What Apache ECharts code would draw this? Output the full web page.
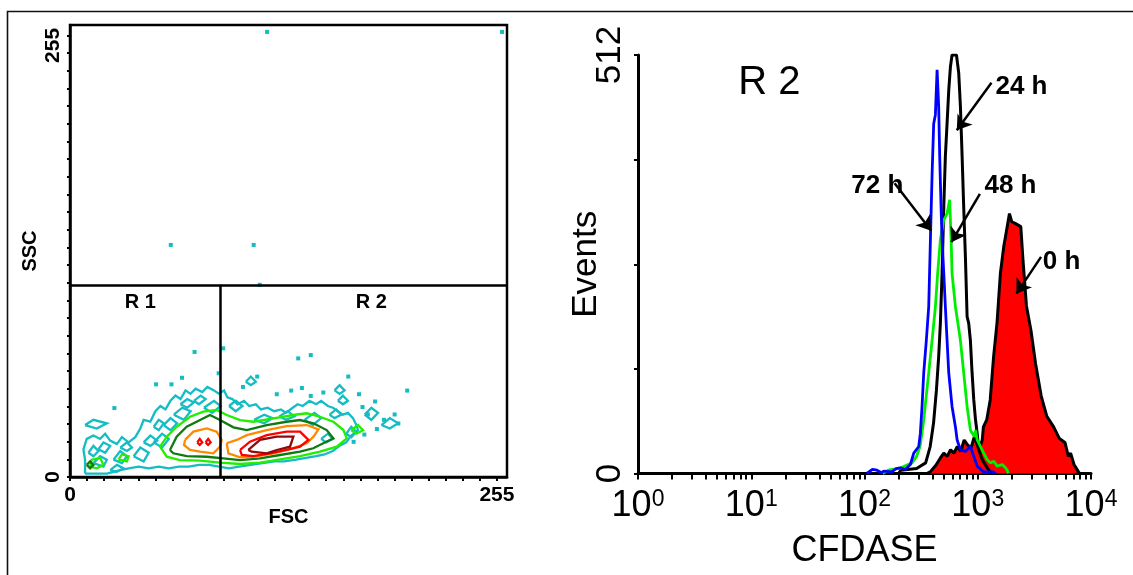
<!DOCTYPE html>
<html>
<head>
<meta charset="utf-8">
<script src="https://cdn.jsdelivr.net/npm/echarts@6/dist/echarts.min.js"></script>
<style>
  html, body { margin: 0; padding: 0; background: #fff; }
  #chart { width: 1133px; height: 575px; }
</style>
</head>
<body>
<div id="chart"></div>
<script>
// ---------- FSC / SSC contour plot ----------
const fscRange = [0, 261];
const sscRange = [0, 261];
const scatterTickStep = 10.2;          // 25 tick intervals up to channel 255
const scatterTickCount = 25;
const scatterLabels = [0, 255];
const gateFSC = 90;
const gateSSC = 111;
const regionNames = ['R 1', 'R 2'];
const regionAnchors = [[42, 101], [180, 101]];

// contour rings, one array of rings per density level
const levelCyan = [
  [[9,2],[9,10],[8,16],[10,22],[14,24],[18,22],[21,25],[24,21],[28,19],[31,23],[35,20],[39,23],[42,28],[44,33],[48,32],[51,38],[54,41],[57,39],[60,44],[63,47],[66,45],[69,50],[72,48],[75,51],[79,49],[82,52],[86,50],[89,48],[92,50],[94,46],[97,45],[100,42],[104,44],[107,41],[111,42],[114,39],[118,40],[122,38],[126,39],[129,37],[133,40],[136,42],[139,41],[143,44],[147,42],[150,44],[154,41],[157,40],[160,38],[163,36],[166,37],[169,34],[171,30],[172,27],[168,24],[165,20],[161,18],[157,15],[152,13],[147,12],[141,11],[135,10],[128,9],[122,9],[115,8],[108,7],[101,6],[95,5],[89,6],[83,7],[77,7],[71,6],[65,6],[59,5],[53,6],[47,5],[41,6],[35,5],[30,4],[26,3],[22,2],[16,2],[9,2]],
  [[14,8],[18,12],[22,10],[20,6],[14,8]],
  [[26,10],[30,15],[34,12],[31,8],[26,10]],
  [[38,12],[42,17],[47,14],[44,9],[38,12]],
  [[17,16],[20,20],[24,18],[21,14],[17,16]],
  [[50,20],[55,25],[59,22],[55,17],[50,20]],
  [[62,36],[67,40],[72,38],[68,33],[62,36]],
  [[80,40],[86,44],[90,41],[85,37],[80,40]],
  [[110,33],[116,36],[121,34],[116,31],[110,33]],
  [[140,33],[146,37],[150,34],[145,30],[140,33]],
  [[176,36],[180,40],[184,37],[180,33],[176,36]],
  [[186,30],[191,34],[196,31],[191,28],[186,30]],
  [[9,30],[14,33],[22,31],[16,28],[9,30]],
  [[11,14],[14,18],[17,15],[14,12],[11,14]],
  [[24,4],[28,7],[32,5],[28,3],[24,4]],
  [[44,20],[48,24],[52,21],[48,18],[44,20]],
  [[30,17],[34,20],[37,17],[34,15],[30,17]],
  [[56,30],[60,34],[64,31],[60,27],[56,30]],
  [[66,42],[70,45],[74,43],[70,40],[66,42]],
  [[74,44],[78,47],[81,45],[77,42],[74,44]],
  [[50,29],[53,33],[56,31],[53,27],[50,29]],
  [[95,41],[99,44],[103,41],[99,38],[95,41]],
  [[125,35],[130,38],[134,35],[129,33],[125,35]],
  [[155,36],[159,39],[162,36],[158,34],[155,36]],
  [[165,25],[168,29],[171,26],[168,23],[165,25]],
  [[150,22],[154,25],[157,22],[153,20],[150,22]],
  [[160,44],[163,47],[166,44],[163,42],[160,44]],
  [[158,50],[161,53],[164,50],[161,48],[158,50]],
  [[105,55],[108,58],[111,55],[108,53],[105,55]]
];
const levelGreen = [
  [[53.8,17.5],[57.8,23.3],[63.7,29],[71.7,34.8],[79.6,37.7],[87.6,38.7],[93.6,35.8],[101.6,32.9],[109.5,31.9],[121.5,33.9],[133.4,35.8],[141.4,36.8],[149.3,34.8],[157.3,31.9],[163.3,27.1],[165.3,22.3],[159.3,17.5],[149.3,14.6],[137.4,12.1],[125.4,10.2],[113.5,8.3],[101.6,7.5],[89.6,8.3],[77.7,9.4],[65.7,9.8],[57.8,11.7],[53.8,17.5]],
  [[12,6],[13,10],[18,11],[20,7],[16,5],[12,6]],
  [[29,10],[31,13],[35,12],[34,9],[29,10]],
  [[168,27],[172,30],[175,27],[171,25],[168,27]]
];
const levelDarkGreen = [
  [[59.7,15.6],[63.7,23.3],[69.7,29],[77.7,32.9],[83.6,35.8],[89.6,32.9],[97.6,28.7],[105.6,27.1],[117.5,30],[129.4,31.9],[137.4,32.9],[145.3,31],[153.3,27.1],[157.3,22.3],[151.3,19.5],[145.3,16.6],[137.4,14.6],[125.4,12.7],[113.5,10.8],[101.6,9.8],[91.6,10.8],[81.7,11.7],[69.7,12.1],[61.7,13.7],[59.7,15.6]],
  [[10,7],[12,9],[14,7],[12,5],[10,7]]
];
const levelOrange = [
  [[68.7,21.4],[73.7,26.2],[81.7,28.1],[87.6,26.2],[90.6,21.4],[89.6,17.5],[85.6,13.7],[77.7,14.6],[71.7,15.6],[68.1,18.5],[68.7,21.4]],
  [[93.6,19.5],[99.6,21.4],[105.6,24.2],[117.5,27.1],[129.4,29.4],[141.4,30],[148.4,27.5],[145.4,23.3],[141.4,19.5],[133.4,16.7],[121.5,13.7],[109.5,11.7],[101.6,11.4],[94.6,13.7],[93.6,19.5]]
];
const levelRed = [
  [[101.6,15.6],[107.5,20.4],[117.5,24.2],[129.4,26.2],[137.4,26.2],[140.4,23.3],[142.4,21.4],[137.4,17.5],[129.4,15.6],[119.5,13.7],[109.5,12.1],[102.6,12.7],[101.6,15.6]],
  [[76,20],[77.5,22],[79,20],[77.5,18.5],[76,20]],
  [[81,20],[82.5,22],[84,20],[82.5,18.5],[81,20]]
];
const levelDarkRed = [
  [[106.5,15.6],[113.5,21.4],[123.5,23.3],[133.4,23.3],[131.4,17.5],[123.5,15.6],[117.5,13.7],[108.5,14.6],[106.5,15.6]]
];
const outlierDots = [
  [117.7,257],[258,257],[60.2,134],[109.7,134],[113.3,111],[74.4,72.2],[91.5,74.3],[136.3,68.5],
  [143.8,70.4],[66.9,57.3],[88.8,59.9],[111.8,58],[103.3,52],[166.2,58],[201.4,49.9],[26.5,39.8],
  [51.4,53.5],[60.6,53.5],[123.5,47.8],[132.1,49.9],[138.5,51.4],[143.8,46.8],[151.3,48.8],
  [172.6,47.8],[182.2,43.6],[174.7,40.4],[177.9,36.1],[187.5,33],[193.9,36.1],[196.1,30.9],
  [183.3,27.7],[175.8,24.5],[169.4,20.3]
];

// ---------- CFDASE histograms (x in decades, y in events) ----------
const decadeLabels = [0, 1, 2, 3, 4];
const eventsMax = 512;
const eventsTicks = [0, 128, 256, 384, 512];
const histNames = ['0 h', '24 h', '48 h', '72 h'];
const hist0h = [
  [2.55,0],[2.58,2],[2.63,10],[2.67,19],[2.70,25],[2.73,21],[2.76,29],[2.79,25],[2.82,33],[2.85,27],
  [2.88,41],[2.91,35],[2.94,31],[2.97,45],[3.01,29],[3.04,41],[3.05,57],[3.08,66],[3.11,90],[3.14,143],
  [3.17,184],[3.20,245],[3.23,278],[3.26,302],[3.28,318],[3.30,308],[3.33,306],[3.38,302],[3.40,260],
  [3.43,205],[3.47,175],[3.51,135],[3.56,95],[3.61,70],[3.67,57],[3.72,43],[3.77,38],[3.80,21],
  [3.82,25],[3.85,11],[3.89,2],[3.90,0]
];
const hist24h = [
  [2.30,0],[2.32,4],[2.46,6],[2.54,13],[2.58,33],[2.61,62],[2.635,102],[2.655,143],[2.67,184],[2.685,245],
  [2.70,326],[2.714,388],[2.729,428],[2.744,469],[2.759,498],[2.773,512],[2.812,512],[2.832,490],
  [2.847,449],[2.862,388],[2.876,326],[2.891,265],[2.906,192],[2.92,184],[2.935,163],[2.95,123],
  [2.965,90],[2.98,66],[2.995,49],[3.009,29],[3.039,17],[3.083,7],[3.112,2],[3.13,0]
];
const hist48h = [
  [2.16,0],[2.21,4],[2.32,7],[2.42,13],[2.46,21],[2.49,33],[2.52,62],[2.567,123],[2.597,163],[2.626,204],
  [2.646,245],[2.67,286],[2.70,310],[2.729,318],[2.752,335],[2.765,286],[2.773,245],[2.803,204],
  [2.847,163],[2.876,123],[2.906,82],[2.935,53],[2.971,45],[2.98,53],[2.995,41],[3.024,33],
  [3.053,25],[3.083,17],[3.112,13],[3.142,15],[3.171,9],[3.216,11],[3.245,7],[3.26,4],[3.27,0]
];
const hist72h = [
  [2.02,0],[2.036,2],[2.07,5],[2.11,4],[2.15,1],[2.17,3],[2.24,2],[2.28,6],[2.317,7],[2.36,5],[2.405,11],
  [2.435,25],[2.479,33],[2.493,49],[2.508,82],[2.523,123],[2.546,163],[2.567,204],[2.582,286],
  [2.597,367],[2.611,428],[2.626,439],[2.641,494],[2.655,449],[2.664,388],[2.676,326],[2.685,286],
  [2.70,245],[2.714,204],[2.729,163],[2.744,123],[2.773,82],[2.803,57],[2.818,41],[2.847,29],
  [2.891,27],[2.935,33],[2.965,21],[2.995,9],[3.053,2],[3.142,2],[3.16,0]
];
const histTitle = 'R 2';
const histTitleAnchor = [1.16, 478];
// time-point labels and the peaks their arrows point at
const tagAnchors = [[3.74, 259], [3.386, 473], [3.289, 352], [2.113, 352]];
const arrowTails = [[3.559, 265], [3.121, 478], [3.019, 342], [2.266, 355]];
const arrowHeads = [[3.342, 220], [2.815, 420], [2.767, 283], [2.589, 297]];

// ---------- chart ----------
const FONT = "'Liberation Sans', Arial, Helvetica, sans-serif";
const scatterTicks = Array.from({ length: scatterTickCount + 1 }, (_, i) => i * scatterTickStep);
const decadeTicks = [];
decadeLabels.forEach(d => {
  if (d === decadeLabels[decadeLabels.length - 1]) { decadeTicks.push(d); return; }
  for (let k = 1; k <= 9; k++) decadeTicks.push(d + Math.log10(k));
});
const chLabel = v => {
  const hit = scatterLabels.find(l => Math.abs(l - v) < 0.01);
  return hit === undefined ? '' : String(hit);
};
// the top SSC label sits a little below its tick, inside the frame height
const sscLabel = v => {
  const t = chLabel(v);
  return t && Number(t) === scatterLabels[scatterLabels.length - 1] ? '{top|' + t + '}' : t;
};

const ring = (rings, color, width) => ({
  type: 'lines', coordinateSystem: 'cartesian2d', xAxisIndex: 0, yAxisIndex: 0,
  polyline: true, silent: true,
  lineStyle: { color, width, opacity: 1 },
  data: rings.map(r => ({ coords: r })),
  z: 3
});
const textOnly = (xi, items, size, weight) => ({
  type: 'scatter', xAxisIndex: xi, yAxisIndex: xi, silent: true, symbolSize: 0,
  itemStyle: { opacity: 1 },
  data: items,
  label: {
    show: true, position: [0, 0], align: 'center', verticalAlign: 'middle', formatter: '{b}',
    fontSize: size, fontWeight: weight, color: '#000', opacity: 1, fontFamily: FONT
  },
  z: 7
});

const chart = echarts.init(document.getElementById('chart'), null, { renderer: 'canvas' });
chart.setOption({
  animation: false,
  backgroundColor: '#fff',
  textStyle: { fontFamily: FONT },
  graphic: [{
    type: 'rect', silent: true,
    shape: { x: 7.5, y: 11.5, width: 1300, height: 700 },
    style: { fill: 'none', stroke: '#111', lineWidth: 1.6 }
  }],
  grid: [
    { left: 70, top: 25, width: 437, height: 452, show: true, borderColor: '#000', borderWidth: 2.5, backgroundColor: 'transparent' },
    { left: 638, top: 55, width: 453, height: 418.5 }
  ],
  xAxis: [
    {
      gridIndex: 0, type: 'value', min: fscRange[0], max: fscRange[1],
      name: 'FSC', nameLocation: 'middle', nameGap: 30, nameMoveOverlap: false,
      nameTextStyle: { fontSize: 20, fontWeight: 'bold', color: '#000', fontFamily: FONT },
      axisLine: { show: true, lineStyle: { color: '#000', width: 2.5 } },
      axisTick: { show: true, customValues: scatterTicks, length: 4, lineStyle: { color: '#000', width: 2 } },
      axisLabel: { customValues: scatterLabels, formatter: chLabel, fontSize: 21, fontWeight: 'bold', color: '#000', margin: 8, fontFamily: FONT },
      splitLine: { show: false }
    },
    {
      gridIndex: 1, type: 'value', min: 0, max: decadeLabels[decadeLabels.length - 1],
      name: 'CFDASE', nameLocation: 'middle', nameGap: 60, nameMoveOverlap: false,
      nameTextStyle: { fontSize: 36, color: '#000', fontFamily: FONT },
      axisLine: { show: true, lineStyle: { color: '#000', width: 3 } },
      axisTick: { show: true, customValues: decadeTicks, length: 6, lineStyle: { color: '#000', width: 2 } },
      axisLabel: {
        customValues: decadeLabels, margin: 15, color: '#000',
        formatter: v => '{b|10}{s|' + Math.round(v) + '}',
        rich: {
          b: { fontSize: 36, fontFamily: FONT, color: '#000', lineHeight: 36, verticalAlign: 'bottom' },
          s: { fontSize: 23, fontFamily: FONT, color: '#000', lineHeight: 36, verticalAlign: 'top' }
        }
      },
      splitLine: { show: false }
    }
  ],
  yAxis: [
    {
      gridIndex: 0, type: 'value', min: sscRange[0], max: sscRange[1],
      name: 'SSC', nameLocation: 'middle', nameGap: 30, nameRotate: 90, nameMoveOverlap: false,
      nameTextStyle: { fontSize: 20, fontWeight: 'bold', color: '#000', fontFamily: FONT },
      axisLine: { show: true, lineStyle: { color: '#000', width: 2.5 } },
      axisTick: { show: true, customValues: scatterTicks, length: 3, lineStyle: { color: '#000', width: 2 } },
      axisLabel: {
        customValues: scatterLabels, formatter: sscLabel, rotate: 90, fontSize: 21, fontWeight: 'bold',
        color: '#000', margin: 6, fontFamily: FONT,
        rich: { top: { fontSize: 21, fontWeight: 'bold', color: '#000', fontFamily: FONT, padding: [0, 20, 0, 0] } }
      },
      splitLine: { show: false }
    },
    {
      gridIndex: 1, type: 'value', min: 0, max: eventsMax,
      name: 'Events', nameLocation: 'middle', nameGap: 34, nameRotate: 90, nameMoveOverlap: false,
      nameTextStyle: { fontSize: 35, color: '#000', fontFamily: FONT },
      axisLine: { show: true, lineStyle: { color: '#000', width: 3 } },
      axisTick: { show: true, customValues: eventsTicks, length: 4, lineStyle: { color: '#000', width: 2 } },
      axisLabel: { customValues: [0, eventsMax], rotate: 90, fontSize: 35, color: '#000', margin: 10, fontFamily: FONT },
      splitLine: { show: false }
    }
  ],
  series: [
    ring(levelCyan, '#14bcc4', 2.3),
    ring(levelGreen, '#22ee00', 2.3),
    ring(levelDarkGreen, '#0e7a10', 2.3),
    ring(levelOrange, '#ff8a00', 2.3),
    ring(levelRed, '#ff0000', 2.3),
    ring(levelDarkRed, '#8e0c0c', 2.3),
    {
      type: 'scatter', xAxisIndex: 0, yAxisIndex: 0, silent: true,
      symbol: 'rect', symbolSize: 4, itemStyle: { color: '#14bcc4', opacity: 1 },
      data: outlierDots, z: 3
    },
    {
      type: 'lines', coordinateSystem: 'cartesian2d', xAxisIndex: 0, yAxisIndex: 0, silent: true,
      lineStyle: { color: '#000', width: 2.5, opacity: 1 },
      data: [
        { coords: [[fscRange[0], gateSSC], [fscRange[1], gateSSC]] },
        { coords: [[gateFSC, sscRange[0]], [gateFSC, gateSSC]] }
      ],
      z: 4
    },
    textOnly(0, regionNames.map((n, i) => ({ name: n, value: regionAnchors[i] })), 20, 'bold'),
    // histograms
    {
      type: 'line', name: histNames[0], xAxisIndex: 1, yAxisIndex: 1, data: hist0h,
      showSymbol: false, symbol: 'none', silent: true,
      lineStyle: { color: '#000', width: 3 }, areaStyle: { color: '#ff0000', opacity: 1 }, z: 2
    },
    {
      type: 'line', name: histNames[1], xAxisIndex: 1, yAxisIndex: 1, data: hist24h,
      showSymbol: false, symbol: 'none', silent: true,
      lineStyle: { color: '#000', width: 3 }, z: 3
    },
    {
      type: 'line', name: histNames[2], xAxisIndex: 1, yAxisIndex: 1, data: hist48h,
      showSymbol: false, symbol: 'none', silent: true,
      lineStyle: { color: '#00ee00', width: 2.8 }, z: 4
    },
    {
      type: 'line', name: histNames[3], xAxisIndex: 1, yAxisIndex: 1, data: hist72h,
      showSymbol: false, symbol: 'none', silent: true,
      lineStyle: { color: '#0000ff', width: 2.8 }, z: 5
    },
    {
      type: 'lines', coordinateSystem: 'cartesian2d', xAxisIndex: 1, yAxisIndex: 1, silent: true,
      symbol: ['none', 'arrow'], symbolSize: [12, 14],
      lineStyle: { color: '#000', width: 2.5, opacity: 1 },
      data: arrowTails.map((t, i) => ({ coords: [t, arrowHeads[i]] })),
      z: 6
    },
    textOnly(1, histNames.map((n, i) => ({ name: n, value: tagAnchors[i] })), 26, 'bold'),
    textOnly(1, [{ name: histTitle, value: histTitleAnchor }], 40, 'normal')
  ]
});
</script>
</body>
</html>
